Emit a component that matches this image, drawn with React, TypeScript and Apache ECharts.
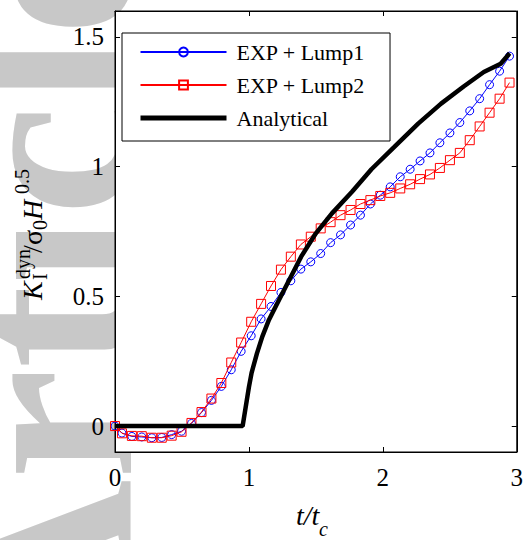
import React, { useEffect, useRef } from "react";
import * as echarts from "echarts";

// t / t_c sample positions of the two experimental series
const T_VALUES = [
  0, 0.052, 0.126, 0.2, 0.275, 0.349, 0.423, 0.497, 0.571, 0.646, 0.72,
  0.794, 0.868, 0.942, 1.017, 1.091, 1.165, 1.239, 1.313, 1.388, 1.462,
  1.536, 1.61, 1.684, 1.759, 1.833, 1.907, 1.981, 2.055, 2.13, 2.204,
  2.278, 2.352, 2.426, 2.501, 2.575, 2.649, 2.723, 2.797, 2.872, 2.946,
];
const LUMP1 = [
  0, -0.027, -0.04, -0.042, -0.045, -0.044, -0.033, -0.02, 0.01, 0.052, 0.099,
  0.153, 0.217, 0.288, 0.348, 0.413, 0.461, 0.515, 0.56, 0.605, 0.633,
  0.665, 0.707, 0.737, 0.775, 0.813, 0.856, 0.89, 0.922, 0.961, 0.99,
  1.022, 1.053, 1.092, 1.13, 1.17, 1.215, 1.262, 1.316, 1.368, 1.426,
];
const LUMP2 = [
  0, -0.028, -0.038, -0.039, -0.045, -0.045, -0.037, -0.022, 0.012, 0.054, 0.106,
  0.166, 0.245, 0.322, 0.402, 0.471, 0.54, 0.603, 0.653, 0.7, 0.73,
  0.762, 0.786, 0.813, 0.833, 0.856, 0.871, 0.887, 0.899, 0.916, 0.932,
  0.952, 0.97, 0.995, 1.025, 1.053, 1.102, 1.155, 1.208, 1.262, 1.324,
];
const ANALYTICAL_T = [
  0, 0.953, 1.0, 1.02, 1.06, 1.1, 1.15, 1.25, 1.39, 1.5, 1.62, 1.77, 1.915,
  2.086, 2.264, 2.435, 2.606, 2.754, 2.88, 2.947,
];
const ANALYTICAL_K = [
  0, 0, 0.15, 0.205, 0.28, 0.345, 0.41, 0.512, 0.653, 0.743, 0.82, 0.903, 0.99,
  1.076, 1.166, 1.243, 1.31, 1.365, 1.397, 1.437,
];
const X_TICKS = [0, 1, 2, 3];
const Y_TICKS = [0, 0.5, 1, 1.5];
const SERIES_NAMES = ["EXP + Lump1", "EXP + Lump2", "Analytical"];

const SERIF = "Liberation Serif";

export default function App() {
  const ref = useRef<HTMLDivElement>(null);

  useEffect(() => {
    if (!ref.current) return;
    const chart = echarts.init(ref.current, null, { renderer: "svg" });

    const zip = (xs: number[], ys: number[]) => xs.map((x, i) => [x, ys[i]]);

    const axisLine = { show: true, onZero: false, lineStyle: { color: "#000", width: 1 } };
    const tickInside = { show: true, inside: true, length: 5, lineStyle: { color: "#000", width: 1 } };
    const labelStyle = { color: "#000", fontFamily: SERIF, fontSize: 25 };

    const xBase = {
      type: "value",
      min: 0,
      max: 3,
      interval: 1,
      axisLine,
      splitLine: { show: false },
      z: 2,
    };
    const yBase = {
      type: "value",
      min: -0.1,
      max: 1.6,
      axisLine,
      splitLine: { show: false },
      z: 2,
    };

    const txt = (text: string, x: number, y: number, size: number, italic = false) => ({
      type: "text",
      x,
      y,
      style: {
        text,
        fontSize: size,
        fontFamily: SERIF,
        fontStyle: italic ? "italic" : "normal",
        fill: "#000",
        align: "left",
        textAlign: "left",
        verticalAlign: "middle",
        textVerticalAlign: "middle",
      },
    });

    chart.setOption({
      animation: false,
      backgroundColor: "#fff",
      grid: {
        left: 115,
        right: 6,
        top: 11,
        bottom: 88,
        show: true,
        backgroundColor: "#fff",
        borderColor: "#000",
        borderWidth: 1,
      },
      legend: {
        orient: "vertical",
        left: 122,
        top: 33,
        data: [
          { name: SERIES_NAMES[0] },
          { name: SERIES_NAMES[1] },
          { name: SERIES_NAMES[2], itemStyle: { opacity: 0 }, lineStyle: { width: 5 } },
        ],
        padding: [8, 25, 12, 16],
        itemWidth: 86,
        itemHeight: 11,
        itemGap: 11,
        backgroundColor: "#fff",
        borderColor: "#000",
        borderWidth: 1,
        z: 10,
        textStyle: { color: "#000", fontFamily: SERIF, fontSize: 22, lineHeight: 22, padding: [0, 0, 0, 5] },
      },
      xAxis: [
        {
          ...xBase,
          position: "bottom",
          axisTick: { ...tickInside, customValues: X_TICKS },
          axisLabel: { ...labelStyle, margin: 13, customValues: X_TICKS },
        },
        {
          ...xBase,
          position: "top",
          axisTick: { ...tickInside, customValues: X_TICKS },
          axisLabel: { show: false },
        },
      ],
      yAxis: [
        {
          ...yBase,
          position: "left",
          axisTick: { ...tickInside, customValues: Y_TICKS },
          axisLabel: { ...labelStyle, margin: 11, customValues: Y_TICKS },
        },
        {
          ...yBase,
          position: "right",
          axisTick: { ...tickInside, customValues: Y_TICKS },
          axisLabel: { show: false },
        },
      ],
      series: [
        {
          name: SERIES_NAMES[0],
          type: "line",
          data: zip(T_VALUES, LUMP1),
          symbol: "circle",
          symbolSize: 8,
          showAllSymbol: true,
          lineStyle: { color: "#0000ff", width: 1 },
          itemStyle: { color: "rgba(0,0,0,0)", borderColor: "#0000ff", borderWidth: 1 },
          z: 3,
        },
        {
          name: SERIES_NAMES[1],
          type: "line",
          data: zip(T_VALUES, LUMP2),
          symbol: "rect",
          symbolSize: 9,
          showAllSymbol: true,
          lineStyle: { color: "#ff0000", width: 1 },
          itemStyle: { color: "rgba(0,0,0,0)", borderColor: "#ff0000", borderWidth: 1 },
          z: 4,
        },
        {
          name: SERIES_NAMES[2],
          type: "line",
          data: zip(ANALYTICAL_T, ANALYTICAL_K),
          symbol: "none",
          lineStyle: { color: "#000", width: 4.5 },
          itemStyle: { color: "#000" },
          z: 5,
        },
      ],
      graphic: [
        {
          type: "text",
          x: 46,
          y: 660,
          rotation: Math.PI / 2,
          z: -100,
          silent: true,
          style: {
            text: "Article",
            fontSize: 250,
            fontWeight: "bold",
            fontFamily: SERIF,
            fill: "#c8c8c8",
            align: "left",
            textAlign: "left",
            verticalAlign: "middle",
            textVerticalAlign: "middle",
          },
        },
        {
          type: "group",
          x: 32,
          y: 300,
          rotation: Math.PI / 2,
          z: 100,
          children: [
            txt("K", 0, 0, 28, true),
            txt("I", 20, 8, 20),
            txt("dyn", 21, -9, 20),
            txt("/", 47, 0, 28),
            txt("σ", 55, 0, 28),
            txt("0", 70, 8, 20),
            txt("H", 80, 0, 28, true),
            txt("0.5", 106, -10, 20),
          ],
        },
        {
          type: "group",
          x: 0,
          y: 0,
          z: 100,
          children: [txt("t/t", 296, 515, 28, true), txt("c", 319, 529, 20, true)],
        },
      ],
    });

    return () => chart.dispose();
  }, []);

  return (
    <div
      ref={ref}
      style={{ position: "fixed", left: 0, top: 0, width: 526, height: 540, background: "#fff" }}
    />
  );
}
